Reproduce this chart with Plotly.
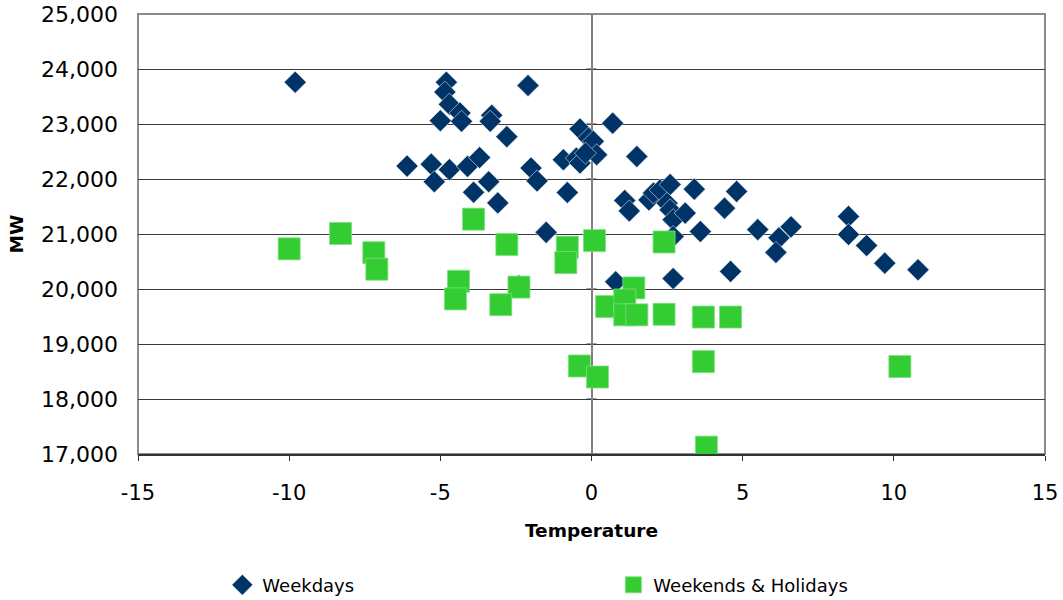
import plotly.graph_objects as go

# Daily peak load (MW) against mean temperature
weekday_temp = [-9.8, -4.8, -4.85, -4.7, -4.35, -4.3, -5.0, -2.1, -3.3, -3.35,
                -2.8, 0.7, -0.38, -0.1, 0.06, 0.17, 1.5, -6.1, -5.3, -5.2,
                -4.7, -4.1, -3.7, -3.9, -3.4, -3.1, -2.0, -1.8, -0.8, -0.93,
                -0.5, -0.38, -0.2, -1.5, 1.1, 1.25, 1.9, 2.05, 2.27, 2.6,
                2.5, 2.6, 2.7, 3.1, 3.4, 3.6, 4.4, 4.8, 2.7, 2.7,
                0.8, -2.4, 4.6, 5.5, 6.2, 6.6, 6.1, 8.5, 8.5, 9.1,
                9.7, 10.8]
weekday_mw = [23760, 23760, 23580, 23360, 23200, 23050, 23060, 23700, 23160, 23050,
              22770, 23015, 22910, 22745, 22685, 22440, 22410, 22235, 22270, 21950,
              22170, 22230, 22390, 21760, 21950, 21565, 22200, 21965, 21755, 22350,
              22380, 22290, 22470, 21030, 21610, 21420, 21620, 21745, 21800, 21900,
              21560, 21440, 21260, 21380, 21815, 21045, 21470, 21775, 20955, 20190,
              20130, 20060, 20320, 21080, 20930, 21130, 20665, 21320, 20990, 20790,
              20470, 20350]

holiday_temp = [-10.0, -8.3, -7.2, -7.1, -3.9, -2.8, -4.4, -4.5, -2.4, -3.0,
                -0.8, -0.85, 0.1, 2.4, 0.5, 1.4, 1.1, 1.1, 1.5, 2.4,
                3.7, 4.6, -0.4, 0.2, 3.7, 10.2, 3.8]
holiday_mw = [20730, 21010, 20660, 20360, 21270, 20810, 20140, 19820, 20035, 19715,
              20760, 20480, 20880, 20855, 19680, 20020, 19800, 19530, 19530, 19540,
              19490, 19490, 18600, 18400, 18680, 18590, 17125]

x_ticks = [-15, -10, -5, 0, 5, 10, 15]
x_tick_labels = ["-15", "-10", "-5", "0", "5", "10", "15"]
y_ticks = list(range(17000, 25001, 1000))

FONT = "DejaVu Sans"

fig = go.Figure()
fig.add_trace(go.Scatter(
    x=weekday_temp, y=weekday_mw, mode="markers", name="Weekdays",
    marker=dict(symbol="diamond", size=17, color="#003366",
                line=dict(width=0.6, color="#dfe6ee")),
))
fig.add_trace(go.Scatter(
    x=holiday_temp, y=holiday_mw, mode="markers", name="Weekends & Holidays",
    marker=dict(symbol="square", size=22, color="#33CC33",
                line=dict(width=0.8, color="#7fe07f")),
))

# cross tick marks on the vertical axis that sits at temperature 0
shapes = [dict(type="line", xref="x", yref="y", x0=-0.17, x1=0.17, y0=v, y1=v,
               line=dict(color="#808080", width=1.5), layer="below")
          for v in y_ticks]
# plot-area frame
shapes.append(dict(type="rect", xref="paper", yref="paper", x0=0, x1=1, y0=0, y1=1,
                   line=dict(color="#8c8c8c", width=2), layer="below"))

fig.update_layout(
    width=1063, height=600,
    margin=dict(l=138, r=18, t=14, b=146, autoexpand=False),
    paper_bgcolor="white", plot_bgcolor="white",
    font=dict(family=FONT, size=21, color="#000000"),
    showlegend=True,
    legend=dict(orientation="h", x=0.093, y=-0.298, xanchor="left", yanchor="middle",
                font=dict(family=FONT, size=18), entrywidth=346,
                bgcolor="rgba(0,0,0,0)", itemwidth=30),
    shapes=shapes,
    xaxis=dict(range=[-15, 15], tickvals=x_ticks, ticktext=x_tick_labels,
               ticks="outside", ticklen=5, automargin=False,
               tickcolor="#333333", showline=True, linecolor="#333333", linewidth=2,
               showgrid=False, zeroline=True, zerolinecolor="#808080", zerolinewidth=2,
               ticklabelstandoff=14,
               title=dict(text="<b>Temperature</b>", font=dict(family=FONT, size=18.5),
                          standoff=20)),
    yaxis=dict(range=[17000, 25000], tickvals=y_ticks, tickformat=",d",
               tickfont=dict(size=22),
               showgrid=True, gridcolor="#3a3a3a", gridwidth=1, automargin=False,
               zeroline=False, showline=False, ticks="",
               ticklabelstandoff=19,
               title=dict(text="<b>MW</b>", font=dict(family=FONT, size=18.5),
                          standoff=12)),
)

fig.write_html("out.html")
